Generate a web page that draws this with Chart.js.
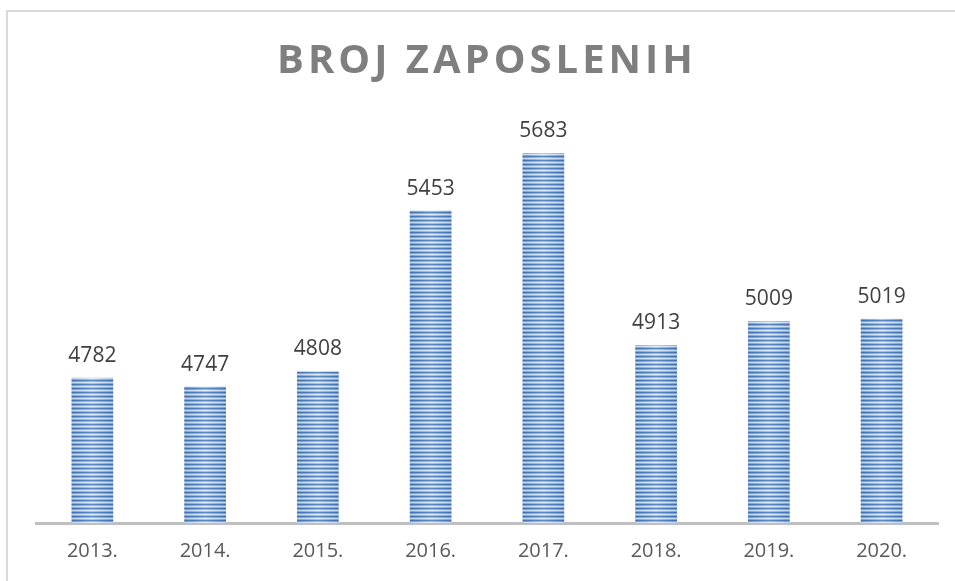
<!DOCTYPE html>
<html>
<head>
<meta charset="utf-8">
<script src="https://cdn.jsdelivr.net/npm/chart.js@4"></script>
<style>
  html, body { margin: 0; padding: 0; background: #fff; }
  #wrap { position: relative; width: 955px; height: 581px; overflow: hidden; }
  #frame { position: absolute; left: 6px; top: 10px; width: 1000px; height: 600px;
           border-top: 2px solid #d9d9d9; border-left: 2px solid #d9d9d9; }
  canvas { position: absolute; left: 0; top: 0; }
</style>
</head>
<body>
<div id="wrap">
  <div id="frame"></div>
  <canvas id="empChart" width="955" height="581"></canvas>
</div>
<script>
const chartTitle = 'BROJ ZAPOSLENIH';
const years = ['2013.', '2014.', '2015.', '2016.', '2017.', '2018.', '2019.', '2020.'];
const employees = [4782, 4747, 4808, 5453, 5683, 4913, 5009, 5019];

// striped fill like the excel bars, lighter in the middle of each bar
const BAR_W = 42;
function makeStripes(chart, index) {
    const c = document.createElement('canvas');
    c.width = BAR_W;
    c.height = 4;
    const p = c.getContext('2d');
    const rows = [['#3f72b2', '#5b8ccb'], ['#6f9ad2', '#9dbde6'], ['#c0d4ee', '#e3edf9'], ['#7aa2d6', '#a8c4e9']];
    rows.forEach((pair, i) => {
        const g = p.createLinearGradient(0, 0, BAR_W, 0);
        g.addColorStop(0, pair[0]);
        g.addColorStop(0.5, pair[1]);
        g.addColorStop(1, pair[0]);
        p.fillStyle = g;
        p.fillRect(0, i, BAR_W, 1);
    });
    const pat = p.createPattern(c, 'repeat');
    const x = chart.scales.x ? chart.scales.x.getPixelForValue(index) : 0;
    pat.setTransform(new DOMMatrix().translate(Math.round(x - BAR_W / 2), 0));
    return pat;
}

const titleAndLabels = {
    id: 'titleAndLabels',
    afterDatasetsDraw(chart) {
        const ctx = chart.ctx;
        ctx.save();
        // title with letter spacing
        ctx.font = 'bold 40px "Open Sans"';
        ctx.fillStyle = '#7f7f7f';
        ctx.textAlign = 'center';
        ctx.textBaseline = 'middle';
        ctx.letterSpacing = '4px';
        ctx.fillText(chartTitle, 487, 62);
        ctx.letterSpacing = '0px';

        // value labels above bars
        ctx.font = '21px "Open Sans"';
        ctx.fillStyle = '#404040';
        ctx.textBaseline = 'alphabetic';
        const meta = chart.getDatasetMeta(0);
        meta.data.forEach((bar, i) => {
            ctx.fillText(employees[i], bar.x, bar.y - 16);
        });
        ctx.restore();
    }
};

const ctx = document.getElementById('empChart').getContext('2d');

const empChart = new Chart(ctx, {
    type: 'bar',
    data: {
        labels: years,
        datasets: [{
            data: employees,
            backgroundColor: (c) => makeStripes(c.chart, c.dataIndex),
            borderWidth: 0,
            barPercentage: 0.37,
            categoryPercentage: 1.0
        }]
    },
    options: {
        responsive: false,
        animation: false,
        layout: {
            padding: { top: 124, left: 36, right: 17, bottom: 0 }
        },
        plugins: {
            legend: { display: false },
            tooltip: { enabled: false }
        },
        scales: {
            x: {
                grid: { display: false, drawTicks: false },
                border: { display: true, color: '#bfbfbf', width: 3 },
                ticks: {
                    color: '#595959',
                    font: { family: 'Open Sans', size: 20 },
                    padding: 16
                },
                afterFit(scale) { scale.height = 58; }
            },
            y: {
                display: false,
                min: 4200,
                max: 5800
            }
        }
    },
    plugins: [titleAndLabels]
});
</script>
</body>
</html>
